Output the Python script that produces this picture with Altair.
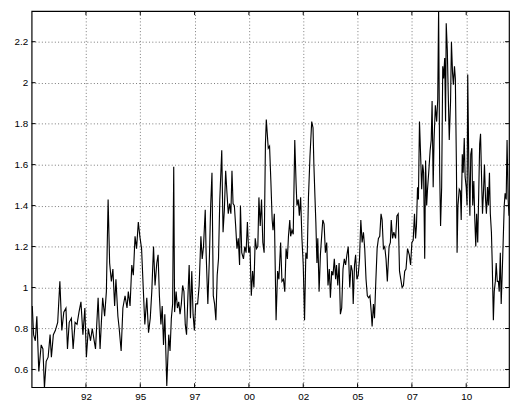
import altair as alt
import pandas as pd

# decimal year / value pairs, one list per stretch
years_90_95 = [1990.03, 1990.09, 1990.17, 1990.24, 1990.33, 1990.44, 1990.52, 1990.59, 1990.67, 1990.76,
               1990.85, 1990.91, 1991.00, 1991.09, 1991.20, 1991.30, 1991.39, 1991.48, 1991.58, 1991.65,
               1991.73, 1991.83, 1991.91, 1992.00, 1992.09, 1992.18, 1992.27, 1992.36, 1992.45, 1992.52,
               1992.61, 1992.71, 1992.79, 1992.88, 1992.94, 1993.06, 1993.15, 1993.21, 1993.27, 1993.36,
               1993.44, 1993.52, 1993.59, 1993.67, 1993.74, 1993.82, 1993.88, 1993.97, 1994.03, 1994.12,
               1994.20, 1994.30, 1994.39, 1994.45, 1994.53, 1994.61, 1994.68, 1994.76, 1994.83, 1994.91,
               1994.98, 1995.06, 1995.14, 1995.21, 1995.30]
values_90_95 = [0.91, 0.77, 0.74, 0.86, 0.59, 0.72, 0.70, 0.51, 0.64, 0.66,
                0.77, 0.66, 0.77, 0.79, 0.83, 1.03, 0.79, 0.88, 0.90, 0.70,
                0.83, 0.85, 0.70, 0.83, 0.82, 0.88, 0.93, 0.77, 0.90, 0.66,
                0.80, 0.74, 0.80, 0.74, 0.70, 0.95, 0.70, 0.83, 0.95, 0.86,
                0.98, 1.43, 1.12, 1.03, 1.09, 0.91, 1.04, 0.86, 0.80, 0.69,
                0.90, 0.96, 0.90, 0.98, 0.91, 1.11, 1.06, 1.25, 1.19, 1.32,
                1.25, 1.19, 0.99, 0.82, 0.95]

years_95_00 = [1995.38, 1995.46, 1995.53, 1995.61, 1995.68, 1995.76, 1995.82, 1995.88, 1995.95, 1996.01,
               1996.07, 1996.13, 1996.22, 1996.31, 1996.37, 1996.43, 1996.49, 1996.54, 1996.58, 1996.65,
               1996.71, 1996.77, 1996.83, 1996.89, 1996.95, 1997.01, 1997.07, 1997.13, 1997.19, 1997.25,
               1997.31, 1997.37, 1997.43, 1997.49, 1997.55, 1997.64, 1997.71, 1997.79, 1997.85, 1997.91,
               1997.99, 1998.03, 1998.11, 1998.18, 1998.24, 1998.30, 1998.36, 1998.42, 1998.48, 1998.54,
               1998.60, 1998.66, 1998.75, 1998.81, 1998.87, 1998.93, 1998.99, 1999.05, 1999.11, 1999.17,
               1999.22, 1999.27, 1999.33, 1999.39, 1999.45, 1999.51, 1999.57, 1999.61, 1999.67, 1999.75,
               1999.81, 1999.87, 1999.93, 1999.99, 2000.05, 2000.11, 2000.17, 2000.23, 2000.29, 2000.35,
               2000.41, 2000.46, 2000.52, 2000.58, 2000.64, 2000.70, 2000.76, 2000.80]
values_95_00 = [0.78, 0.85, 0.98, 1.20, 1.01, 1.12, 1.16, 0.96, 0.82, 0.91,
                0.72, 0.87, 0.52, 0.77, 0.69, 0.85, 0.92, 1.59, 0.88, 0.98,
                0.90, 0.93, 0.87, 0.92, 1.01, 0.98, 0.82, 0.77, 0.95, 1.11,
                0.85, 1.08, 0.87, 0.79, 0.92, 0.92, 1.01, 1.25, 1.14, 1.20,
                1.38, 1.17, 0.92, 1.14, 1.40, 1.56, 0.96, 0.92, 0.84, 1.06,
                1.14, 1.43, 1.67, 1.27, 1.38, 1.57, 1.46, 1.36, 1.41, 1.36,
                1.57, 1.41, 1.40, 1.30, 1.19, 1.24, 1.11, 1.40, 1.17, 1.14,
                1.20, 1.17, 1.32, 1.17, 1.20, 0.96, 1.08, 1.00, 1.24, 1.19,
                1.20, 1.44, 1.30, 1.43, 1.22, 1.17, 1.70, 1.82]

years_00_06 = [2000.89, 2000.95, 2001.01, 2001.07, 2001.11, 2001.17, 2001.25, 2001.32, 2001.38, 2001.46,
               2001.52, 2001.59, 2001.65, 2001.71, 2001.77, 2001.82, 2001.88, 2001.92, 2001.98, 2002.04,
               2002.11, 2002.17, 2002.21, 2002.27, 2002.32, 2002.38, 2002.44, 2002.50, 2002.56, 2002.62,
               2002.68, 2002.74, 2002.81, 2002.89, 2002.95, 2002.99, 2003.04, 2003.08, 2003.13, 2003.17,
               2003.23, 2003.29, 2003.36, 2003.40, 2003.46, 2003.52, 2003.58, 2003.64, 2003.70, 2003.75,
               2003.81, 2003.87, 2003.93, 2003.99, 2004.03, 2004.09, 2004.15, 2004.21, 2004.27, 2004.33,
               2004.39, 2004.45, 2004.51, 2004.57, 2004.64, 2004.70, 2004.76, 2004.80, 2004.86, 2004.91,
               2004.97, 2005.03, 2005.09, 2005.15, 2005.21, 2005.27, 2005.33, 2005.39, 2005.45, 2005.51,
               2005.57, 2005.63, 2005.67, 2005.73, 2005.78, 2005.84, 2005.90, 2005.96, 2006.02, 2006.08,
               2006.13, 2006.19, 2006.25, 2006.31]
values_00_06 = [1.68, 1.69, 1.52, 1.33, 1.28, 1.36, 0.84, 1.08, 1.04, 1.22,
                1.03, 1.04, 0.98, 1.19, 1.14, 1.25, 1.33, 1.25, 1.28, 1.26,
                1.72, 1.51, 1.40, 1.43, 1.35, 1.44, 1.24, 1.11, 0.84, 1.17,
                1.14, 1.44, 1.64, 1.81, 1.78, 1.60, 1.44, 1.32, 1.12, 1.24,
                0.98, 1.16, 1.27, 1.33, 1.31, 1.17, 1.22, 1.01, 1.09, 0.95,
                1.08, 1.06, 1.14, 1.04, 1.11, 1.01, 1.12, 0.87, 0.90, 1.09,
                1.14, 1.11, 1.16, 1.20, 1.00, 1.11, 1.08, 0.92, 1.11, 1.16,
                1.04, 1.06, 1.14, 1.33, 1.22, 1.27, 1.19, 1.04, 0.96, 0.95,
                0.96, 0.88, 0.81, 0.92, 0.85, 1.03, 1.19, 1.24, 1.25, 1.36,
                1.33, 1.19, 1.20, 1.14]

years_06_12 = [2006.37, 2006.45, 2006.51, 2006.55, 2006.61, 2006.67, 2006.75, 2006.81, 2006.87, 2006.93,
               2006.99, 2007.05, 2007.11, 2007.17, 2007.23, 2007.30, 2007.38, 2007.44, 2007.50, 2007.56,
               2007.62, 2007.67, 2007.71, 2007.76, 2007.80, 2007.85, 2007.91, 2007.95, 2008.00, 2008.04,
               2008.09, 2008.13, 2008.18, 2008.22, 2008.28, 2008.34, 2008.39, 2008.43, 2008.48, 2008.52,
               2008.58, 2008.64, 2008.69, 2008.73, 2008.78, 2008.82, 2008.87, 2008.92, 2008.96, 2009.01,
               2009.05, 2009.08, 2009.13, 2009.17, 2009.22, 2009.28, 2009.32, 2009.37, 2009.41, 2009.46,
               2009.50, 2009.55, 2009.58, 2009.62, 2009.68, 2009.73, 2009.77, 2009.82, 2009.86, 2009.91,
               2009.95, 2010.00, 2010.04, 2010.07, 2010.12, 2010.17, 2010.21, 2010.26, 2010.30, 2010.35,
               2010.39, 2010.44, 2010.48, 2010.53, 2010.57, 2010.62, 2010.66, 2010.71, 2010.75, 2010.80,
               2010.84, 2010.89, 2010.93, 2010.98, 2011.02, 2011.07, 2011.11, 2011.16, 2011.20, 2011.25,
               2011.29, 2011.34, 2011.38, 2011.43, 2011.48, 2011.52, 2011.57, 2011.61, 2011.66, 2011.70,
               2011.75, 2011.79, 2011.84, 2011.88, 2011.93, 2011.97]
values_06_12 = [1.03, 1.20, 1.22, 1.33, 1.24, 1.27, 1.24, 1.35, 1.36, 1.08,
                1.04, 1.00, 1.01, 1.08, 1.09, 1.19, 1.16, 1.11, 1.22, 1.23,
                1.36, 1.24, 1.30, 1.49, 1.43, 1.81, 1.62, 1.48, 1.60, 1.56,
                1.14, 1.62, 1.40, 1.48, 1.57, 1.67, 1.72, 1.91, 1.49, 1.72,
                1.89, 1.81, 1.92, 2.36, 1.56, 1.30, 1.49, 2.08, 2.02, 2.12,
                1.81, 2.29, 2.16, 1.96, 1.72, 1.91, 2.20, 2.05, 1.99, 2.08,
                2.02, 1.59, 1.17, 1.40, 1.48, 1.47, 1.33, 1.65, 1.56, 1.73,
                1.54, 1.49, 1.40, 2.04, 1.59, 1.35, 1.65, 1.68, 1.40, 1.52,
                1.35, 1.20, 1.36, 1.22, 1.43, 1.70, 1.75, 1.52, 1.36, 1.48,
                1.60, 1.43, 1.36, 1.49, 1.40, 1.56, 1.36, 1.27, 1.11, 0.84,
                0.98, 1.03, 1.12, 1.03, 1.03, 0.98, 1.17, 0.92, 1.08, 1.22,
                1.40, 1.46, 1.43, 1.72, 1.43, 1.35]

x_ticks = [1992.5, 1995.0, 1997.5, 2000.0, 2002.5, 2005.0, 2007.5, 2010.0]
x_labels = ["92", "95", "97", "00", "02", "05", "07", "10"]
y_ticks = [0.6, 0.8, 1.0, 1.2, 1.4, 1.6, 1.8, 2.0, 2.2]

W, H = 485, 382

df = pd.DataFrame({
    "year": years_90_95 + years_95_00 + years_00_06 + years_06_12,
    "value": values_90_95 + values_95_00 + values_00_06 + values_06_12,
})
xt = pd.DataFrame({"year": x_ticks})
yt = pd.DataFrame({"value": y_ticks})

label_expr = ("[" + ",".join("'%s'" % s for s in x_labels) + "][indexof(["
              + ",".join(str(t) for t in x_ticks) + "], datum.value)]")

x_enc = alt.X("year:Q",
              scale=alt.Scale(domain=[1990, 2011.97], nice=False, zero=False),
              axis=alt.Axis(values=x_ticks, labelExpr=label_expr, title=None,
                            grid=True, domain=False, ticks=False, labelPadding=5))
y_enc = alt.Y("value:Q",
              scale=alt.Scale(domain=[0.5136, 2.349], nice=False, zero=False),
              axis=alt.Axis(values=y_ticks, format="~g", title=None,
                            grid=True, domain=False, ticks=False, labelPadding=4))

line = alt.Chart(df).mark_line(color="black", strokeWidth=1.15, clip=True).encode(x=x_enc, y=y_enc)

# MATLAB style inward ticks on all four sides
tick_bottom = alt.Chart(xt).mark_rule(color="black").encode(x=x_enc, y=alt.value(H - 4), y2=alt.value(H))
tick_top = alt.Chart(xt).mark_rule(color="black").encode(x=x_enc, y=alt.value(0), y2=alt.value(4))
tick_left = alt.Chart(yt).mark_rule(color="black").encode(y=y_enc, x=alt.value(0), x2=alt.value(4))
tick_right = alt.Chart(yt).mark_rule(color="black").encode(y=y_enc, x=alt.value(W - 4), x2=alt.value(W))

chart = alt.layer(line, tick_bottom, tick_top, tick_left, tick_right).properties(
    width=W,
    height=H,
    autosize="none",
    padding={"left": 24, "top": 0, "right": 1, "bottom": 22},
).configure_view(
    stroke="black",
    strokeWidth=1.2,
).configure_axis(
    labelFont="Liberation Sans",
    labelFontSize=10,
    labelColor="black",
    gridColor="#555555",
    gridDash=[1, 2.3],
    gridWidth=0.8,
)

chart.save("out.html", embed_options={"renderer": "svg", "actions": False})
